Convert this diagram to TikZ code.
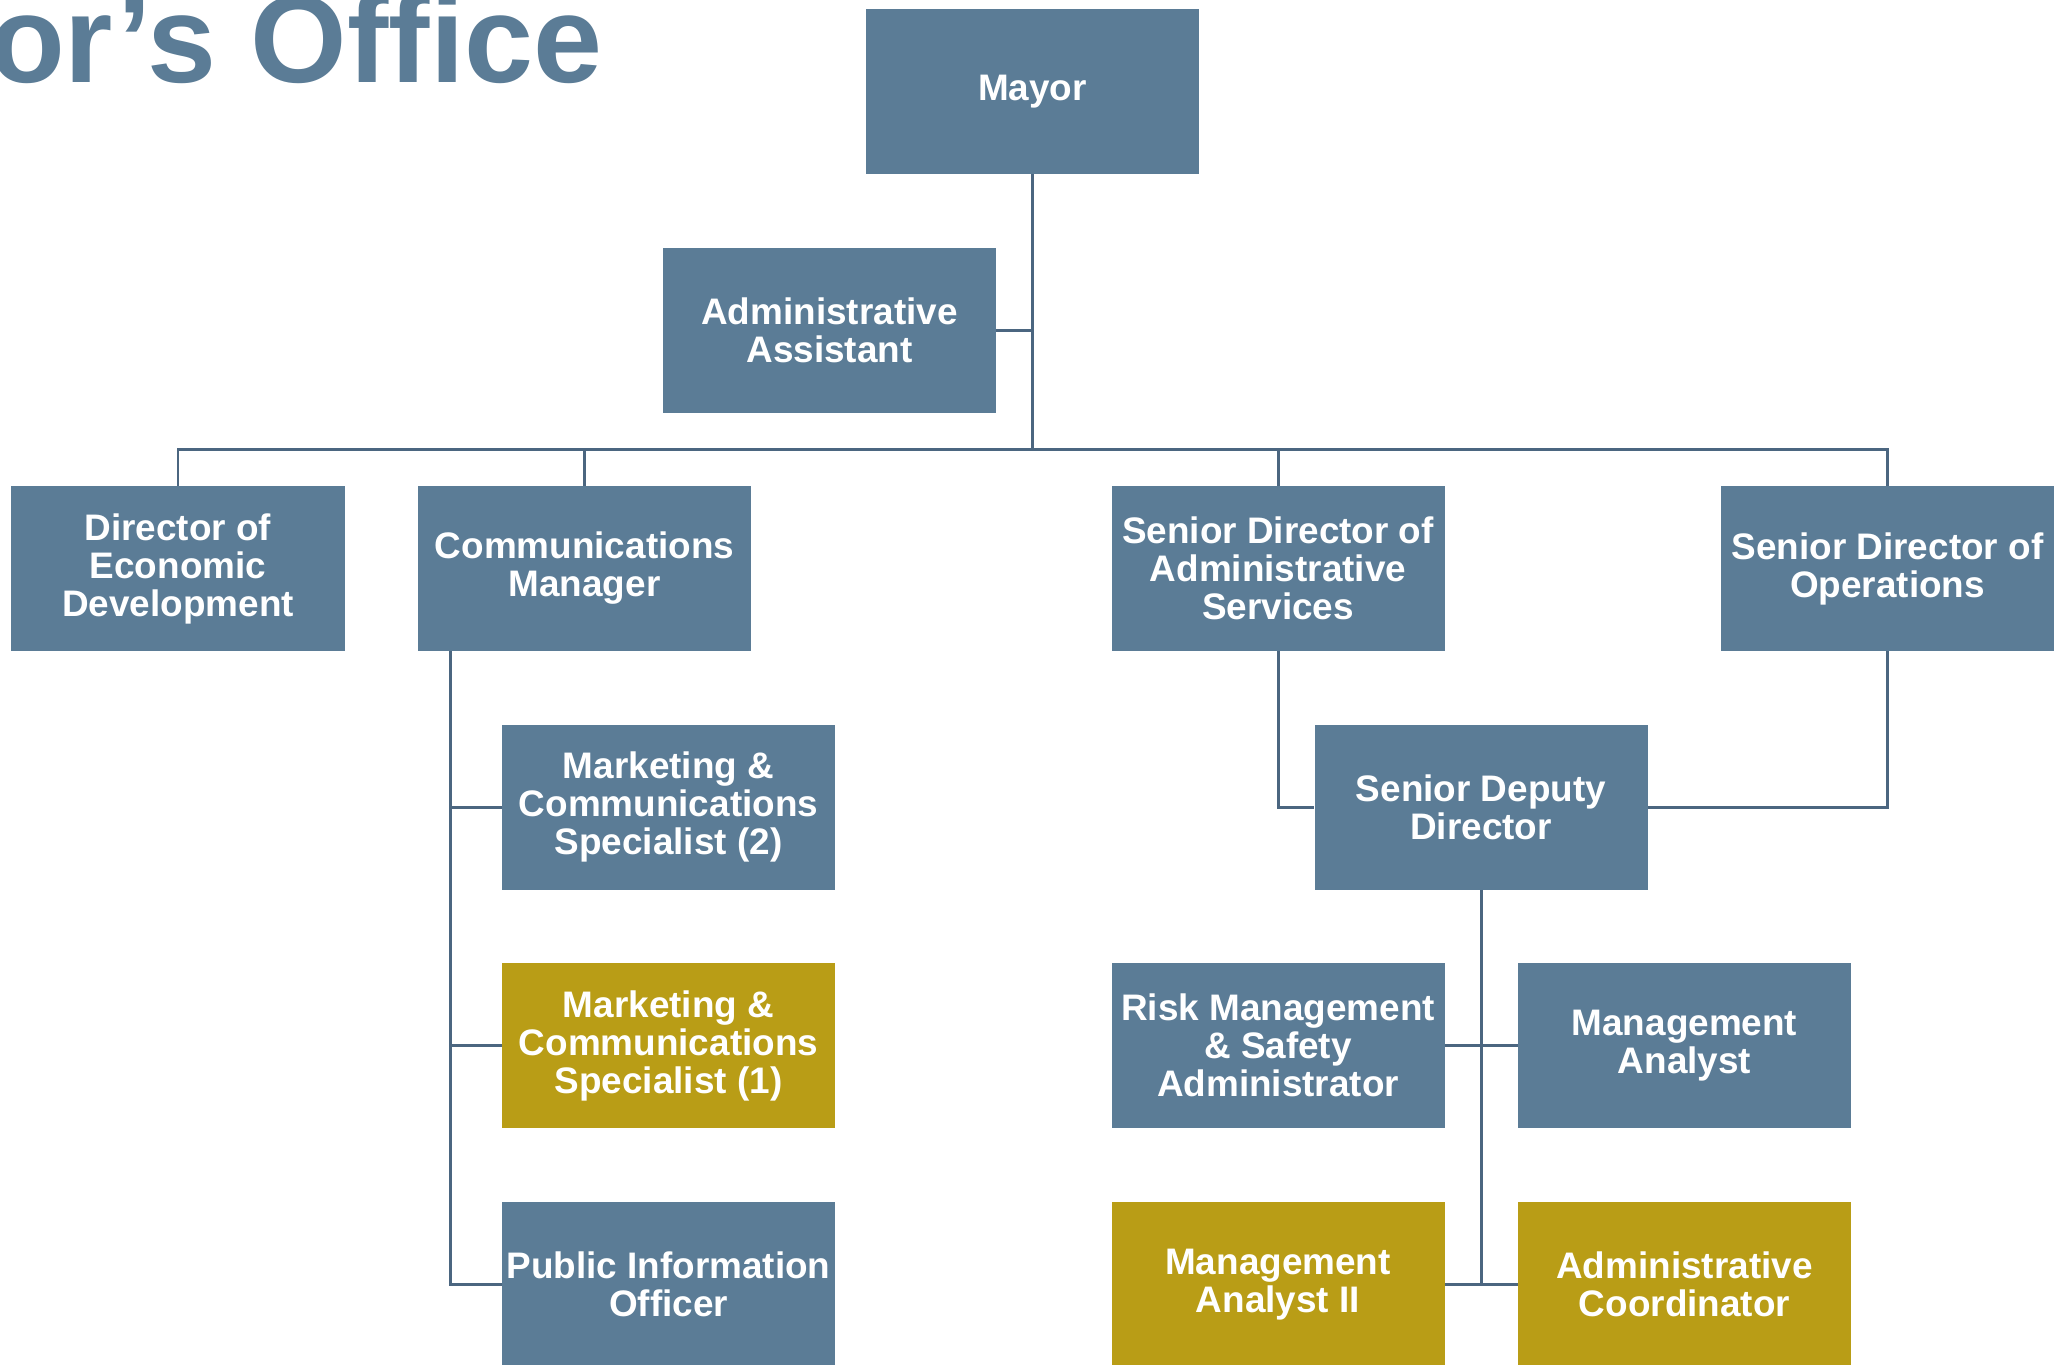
\documentclass[tikz,border=0pt]{standalone}
\usepackage{fontspec}
\setmainfont{Liberation Sans}
\usetikzlibrary{positioning,calc}
\definecolor{slate}{HTML}{5B7C96}
\definecolor{ochre}{HTML}{B99D16}
\definecolor{wire}{HTML}{4B6680}

\begin{document}
\begin{tikzpicture}[
  unit/.style={fill=slate, text=white, minimum width=6.66cm,
               minimum height=3.30cm, inner sep=0pt, align=center,
               font=\fontsize{21}{21.6}\selectfont\bfseries},
  vacant/.style={unit, fill=ochre},
  link/.style={draw=wire, line width=1.7pt},
  heading/.style={text=slate, inner sep=0pt,
                  font=\fontsize{70.6}{72}\selectfont\bfseries}
]
  \clip (0,0) rectangle (41.32,-27.30);

  % Title, running off the left edge
  \node[heading, anchor=base east] (title) at (12.06,-1.64) {Mayor’s Office};

  % Top of the chart
  \node[unit] (mayor) at (20.65,-1.83) {Mayor};
  \node[unit] (asst)  at (16.59,-6.60) {Administrative\\Assistant};

  % Direct reports
  \node[unit] (econ)    at (3.56,-11.37)  {Director of\\Economic\\Development};
  \node[unit] (comm)    at (11.69,-11.37) {Communications\\Manager};
  \node[unit] (sdadmin) at (25.56,-11.37) {Senior Director of\\Administrative\\Services};
  \node[unit] (sdops)   at (37.75,-11.37) {Senior Director of\\Operations};

  % Communications team
  \node[unit]   (mkttwo) at (13.37,-16.14) {Marketing \&\\Communications\\Specialist (2)};
  \node[vacant] (mktone) at (13.37,-20.91) {Marketing \&\\Communications\\Specialist (1)};
  \node[unit]   (pio)    at (13.37,-25.69) {Public Information\\Officer};

  % Operations team
  \node[unit]   (deputy)   at (29.62,-16.14) {Senior Deputy\\Director};
  \node[unit]   (risk)     at (25.56,-20.91) {Risk Management\\\& Safety\\Administrator};
  \node[unit]   (analyst)  at (33.69,-20.91) {Management\\Analyst};
  \node[vacant] (analysttwo) at (25.56,-25.69) {Management\\Analyst II};
  \node[vacant] (coord)    at (33.69,-25.69) {Administrative\\Coordinator};

  % Connectors
  \coordinate (bus) at ($(mayor.south)+(0,-5.50)$);
  \draw[link] (mayor.south) -- (bus);
  \draw[link] (asst.east) -- (asst.east -| mayor.south);
  \draw[link] (econ.north) -- (econ.north |- bus) -- (sdops.north |- bus) -- (sdops.north);
  \draw[link] (comm.north) -- (comm.north |- bus);
  \draw[link] (sdadmin.north) -- (sdadmin.north |- bus);

  \coordinate (spine) at ([xshift=0.66cm]comm.south west);
  \draw[link] (spine) |- (pio.west);
  \draw[link] (spine |- mkttwo.west) -- (mkttwo.west);
  \draw[link] (spine |- mktone.west) -- (mktone.west);

  \draw[link] (sdadmin.south) |- (deputy.west);
  \draw[link] (sdops.south) |- (deputy.east);
  \draw[link] (deputy.south) -- (deputy.south |- coord.west);
  \draw[link] (risk.east) -- (analyst.west);
  \draw[link] (analysttwo.east) -- (coord.west);
\end{tikzpicture}
\end{document}
